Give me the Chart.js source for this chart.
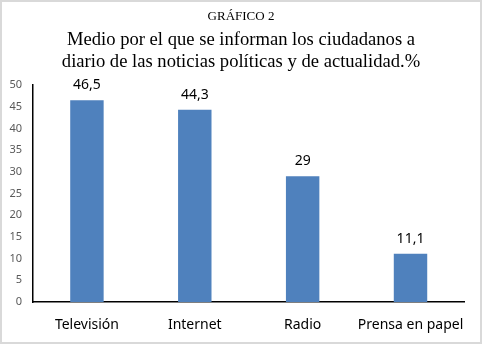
<!DOCTYPE html>
<html>
<head>
<meta charset="utf-8">
<script src="https://cdn.jsdelivr.net/npm/chart.js@4/dist/chart.umd.min.js"></script>
<style>
html,body{margin:0;padding:0;background:#fff;}
#wrap{width:482px;height:344px;box-sizing:border-box;border:2px solid #d9d9d9;position:relative;}
canvas{display:block;}
</style>
</head>
<body>
<div id="wrap"><canvas id="c" width="478" height="340"></canvas></div>
<script>
const categories = ["Televisión", "Internet", "Radio", "Prensa en papel"];
const values = [46.5, 44.3, 29, 11.1];
const valueLabels = ["46,5", "44,3", "29", "11,1"];
const headingText = "GRÁFICO 2";
const titleLines = ["Medio por el que se informan los ciudadanos a", "diario de las noticias políticas y de actualidad.%"];

const serifFamily = "'Liberation Serif', 'Times New Roman', serif";
const sansFamily = "'Noto Sans', 'Open Sans', sans-serif";

const headingPlugin = {
  id: 'heading',
  afterDraw(chart) {
    const ctx = chart.ctx;
    const cx = chart.width / 2;
    ctx.save();
    ctx.fillStyle = '#000';
    ctx.textAlign = 'center';
    ctx.textBaseline = 'middle';
    ctx.font = "13px " + serifFamily;
    ctx.fillText(headingText, cx, 15);
    ctx.font = "18.6px " + serifFamily;
    ctx.fillText(titleLines[0], cx, 38);
    ctx.fillText(titleLines[1], cx, 60);
    ctx.restore();
  }
};

const labelPlugin = {
  id: 'valueLabels',
  afterDatasetsDraw(chart) {
    const ctx = chart.ctx;
    const meta = chart.getDatasetMeta(0);
    ctx.save();
    ctx.font = "14px " + sansFamily;
    ctx.fillStyle = '#000';
    ctx.textAlign = 'center';
    ctx.textBaseline = 'middle';
    meta.data.forEach((bar, i) => {
      ctx.fillText(valueLabels[i], bar.x, bar.y - 15);
    });
    ctx.restore();
  }
};

new Chart(document.getElementById('c'), {
  type: 'bar',
  data: {
    labels: categories,
    datasets: [{
      data: values,
      backgroundColor: '#4F81BD',
      borderWidth: 0,
      barPercentage: 0.31,
      categoryPercentage: 1
    }]
  },
  options: {
    responsive: false,
    animation: false,
    devicePixelRatio: 1,
    layout: { padding: { left: 4, right: 14, top: 83, bottom: 0 } },
    plugins: {
      legend: { display: false },
      tooltip: { enabled: false },
      title: { display: false }
    },
    scales: {
      x: {
        grid: { display: false, drawTicks: false },
        border: { display: true, color: '#000', width: 1.5 },
        ticks: { color: '#000', font: { family: sansFamily, size: 14 }, padding: 15, maxRotation: 0, autoSkip: false },
        afterFit(scale) { scale.height = 40; }
      },
      y: {
        min: 0, max: 50,
        grid: { display: false, drawTicks: false },
        border: { display: true, color: '#000', width: 1.5 },
        ticks: { stepSize: 5, color: '#595959', font: { family: sansFamily, size: 11 }, padding: 11 },
        afterFit(scale) { scale.width = 27; }
      }
    }
  },
  plugins: [labelPlugin, headingPlugin]
});
</script>
</body>
</html>
